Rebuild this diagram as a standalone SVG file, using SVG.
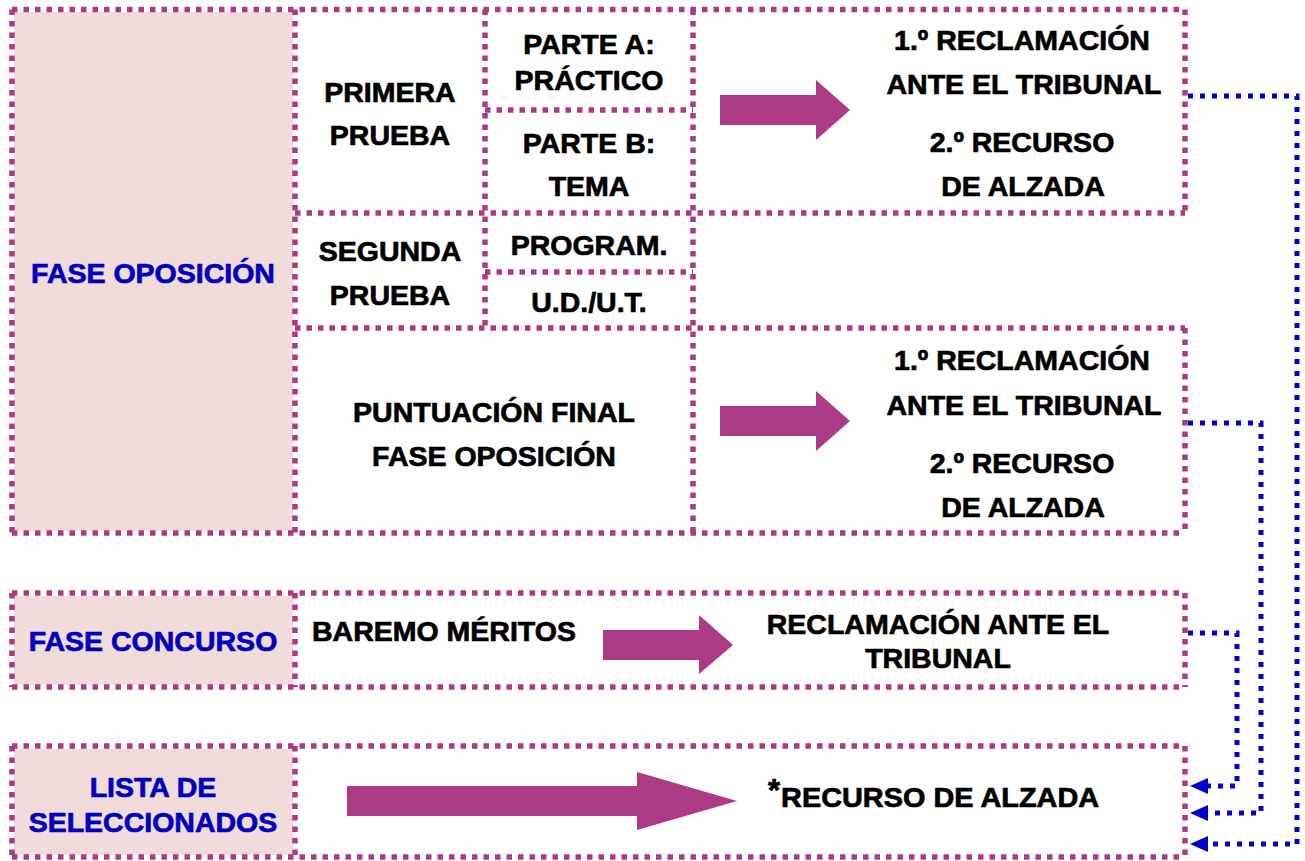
<svg xmlns="http://www.w3.org/2000/svg" width="1305" height="861" viewBox="0 0 1305 861">
<style>
.b{stroke:#AD3A84;stroke-width:5.5;stroke-dasharray:5.5 6;fill:none}
.c{stroke:#0000CC;stroke-width:5;stroke-dasharray:5 7;fill:none}
.fill{fill:#F2DCDB}
.t{font-family:"Liberation Sans",Arial,sans-serif;font-weight:bold;font-size:28.5px;fill:#000;stroke:#000;stroke-width:0.7;text-anchor:middle;dominant-baseline:central}
.bl{fill:#0000C0;stroke:#0000C0}
.arr{fill:#AD3A84}
.ah{fill:#0000CC}
</style>
<rect width="1305" height="861" fill="#fff"/>
<g id="fase-oposicion">
<rect class="fill" x="14" y="12" width="279" height="519"/>
<g class="b">
<line x1="12" y1="9.5" x2="1185" y2="9.5"/>
<line x1="485" y1="110" x2="693" y2="110"/>
<line x1="295" y1="213" x2="1185" y2="213"/>
<line x1="485" y1="272" x2="693" y2="272"/>
<line x1="295" y1="328" x2="1185" y2="328"/>
<line x1="12" y1="533" x2="1185" y2="533"/>
<line x1="12" y1="9.5" x2="12" y2="533"/>
<line x1="295" y1="9.5" x2="295" y2="533"/>
<line x1="485" y1="9.5" x2="485" y2="328"/>
<line x1="693" y1="9.5" x2="693" y2="533"/>
<line x1="1185" y1="9.5" x2="1185" y2="213"/>
<line x1="1185" y1="328" x2="1185" y2="533"/>
</g>
<text class="t bl" x="153" y="273">FASE OPOSICIÓN</text>
</g>
<g id="primera-prueba">
<text class="t" x="390" y="92">PRIMERA</text>
<text class="t" x="390" y="135">PRUEBA</text>
</g>
<g id="parte-a">
<text class="t" x="589" y="44">PARTE A:</text>
<text class="t" x="589" y="80">PRÁCTICO</text>
</g>
<g id="parte-b">
<text class="t" x="589" y="143">PARTE B:</text>
<text class="t" x="589" y="186">TEMA</text>
</g>
<g id="reclamacion-1">
<text class="t" x="1022" y="40">1.º RECLAMACIÓN</text>
<text class="t" x="1024" y="84">ANTE EL TRIBUNAL</text>
<text class="t" x="1022" y="142">2.º RECURSO</text>
<text class="t" x="1023" y="186">DE ALZADA</text>
</g>
<g id="segunda-prueba">
<text class="t" x="390" y="251">SEGUNDA</text>
<text class="t" x="390" y="295">PRUEBA</text>
</g>
<g id="program">
<text class="t" x="589" y="245">PROGRAM.</text>
</g>
<g id="ud-ut">
<text class="t" x="589" y="302">U.D./U.T.</text>
</g>
<g id="puntuacion-final">
<text class="t" x="494" y="412">PUNTUACIÓN FINAL</text>
<text class="t" x="494" y="456">FASE OPOSICIÓN</text>
</g>
<g id="reclamacion-2">
<text class="t" x="1022" y="360">1.º RECLAMACIÓN</text>
<text class="t" x="1024" y="405">ANTE EL TRIBUNAL</text>
<text class="t" x="1022" y="463">2.º RECURSO</text>
<text class="t" x="1023" y="507">DE ALZADA</text>
</g>
<g id="fase-concurso">
<rect class="fill" x="14" y="596" width="279" height="89"/>
<g class="b">
<line x1="12" y1="593" x2="1185" y2="593"/>
<line x1="12" y1="687" x2="1185" y2="687"/>
<line x1="12" y1="593" x2="12" y2="687"/>
<line x1="295" y1="593" x2="295" y2="687"/>
<line x1="1185" y1="593" x2="1185" y2="687"/>
</g>
<text class="t bl" x="153" y="641">FASE CONCURSO</text>
</g>
<g id="baremo">
<text class="t" x="312" y="631" style="text-anchor:start">BAREMO MÉRITOS</text>
</g>
<g id="reclamacion-concurso">
<text class="t" x="938" y="624">RECLAMACIÓN ANTE EL</text>
<text class="t" x="938" y="658">TRIBUNAL</text>
</g>
<g id="lista">
<rect class="fill" x="14" y="749" width="279" height="106"/>
<g class="b">
<line x1="12" y1="746" x2="1185" y2="746"/>
<line x1="12" y1="857" x2="1185" y2="857"/>
<line x1="12" y1="746" x2="12" y2="857"/>
<line x1="295" y1="746" x2="295" y2="857"/>
<line x1="1185" y1="746" x2="1185" y2="857"/>
</g>
<text class="t bl" x="153" y="787">LISTA DE</text>
<text class="t bl" x="153" y="822">SELECCIONADOS</text>
</g>
<g id="recurso-alzada">
<text class="t" x="768" y="797" style="text-anchor:start"><tspan font-size="31" dy="-7">*</tspan><tspan dy="7" dx="1" textLength="318" lengthAdjust="spacingAndGlyphs">RECURSO DE ALZADA</tspan></text>
</g>
<g id="block-arrows">
<polygon class="arr" points="720,95 816,95 816,80 850,110 816,140 816,125 720,125"/>
<polygon class="arr" points="720,406 816,406 816,391 850,421 816,451 816,436 720,436"/>
<polygon class="arr" points="603,630 699,630 699,615 733,645 699,674 699,660 603,660"/>
<polygon class="arr" points="347,786 637,786 637,772 737,801 637,830 637,816 347,816"/>
</g>
<g id="connectors">
<path class="c" d="M1188,96 H1297 V844 H1208"/>
<path class="c" d="M1188,423 H1261 V813 H1208"/>
<path class="c" d="M1188,633 H1237 V786 H1208"/>
<polygon class="ah" points="1190,844 1208,836 1208,852"/>
<polygon class="ah" points="1190,813 1208,805 1208,821"/>
<polygon class="ah" points="1190,786 1208,778 1208,794"/>
</g>
</svg>
